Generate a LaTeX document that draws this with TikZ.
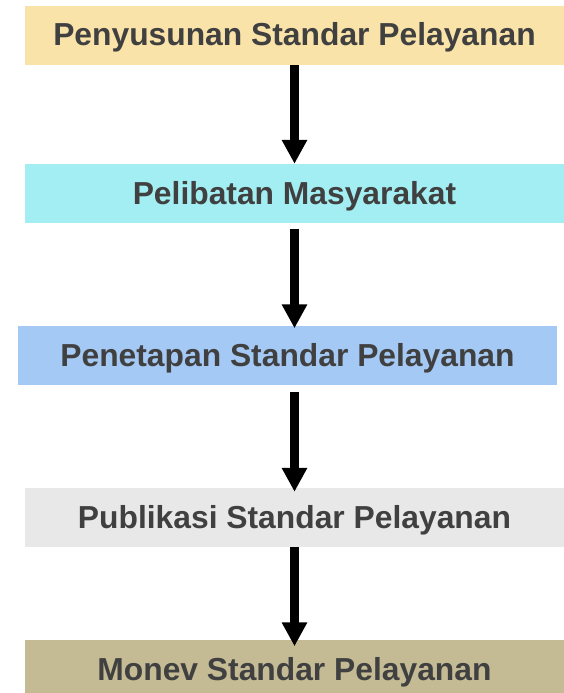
\documentclass[tikz,border=0pt]{standalone}
\usepackage{fontspec}
\setmainfont{Liberation Sans}
\usetikzlibrary{arrows.meta,calc}
\definecolor{cOne}{HTML}{FAE3A9}
\definecolor{cTwo}{HTML}{A3EEF2}
\definecolor{cThree}{HTML}{A4C9F4}
\definecolor{cFour}{HTML}{E8E8E8}
\definecolor{cFive}{HTML}{C4BB95}
\definecolor{txt}{HTML}{404040}
\tikzset{
  stagebox/.style={rectangle, inner sep=0pt, minimum width=539pt, minimum height=59pt,
    text=txt, font=\fontsize{31.8}{36}\selectfont\bfseries, text height=21pt, text depth=0pt},
  flowarrow/.style={line width=9pt, -{Triangle[width=24pt,length=24pt]}, black}
}
\begin{document}
\begin{tikzpicture}[x=1pt,y=-1pt]
\clip (0,0) rectangle (564,693);
\fill[white] (0,0) rectangle (564,693);
\node[stagebox, fill=cOne] (b1) at (294.5,35.5) {Penyusunan Standar Pelayanan};
\node[stagebox, fill=cTwo] (b2) at (294.5,193.5) {Pelibatan Masyarakat};
\node[stagebox, fill=cThree] (b3) at (287.5,355.5) {Penetapan Standar Pelayanan};
\node[stagebox, fill=cFour] (b4) at (294.5,517.5) {Publikasi Standar Pelayanan};
\node[stagebox, fill=cFive, text height=22pt] (b5) at (294.5,669.5) {Monev Standar Pelayanan};
\draw[flowarrow] (b1.south) -- (b2.north);
\draw[flowarrow] ($(b2.south)+(0,5.5)$) -- ($(b3.north -| b2.south)+(0,2.5)$);
\draw[flowarrow] ($(b3.south -| b2.south)+(0,7)$) -- ($(b4.north)+(0,4)$);
\draw[flowarrow] (b4.south) -- ($(b5.north)+(0,6.5)$);
\end{tikzpicture}
\end{document}
